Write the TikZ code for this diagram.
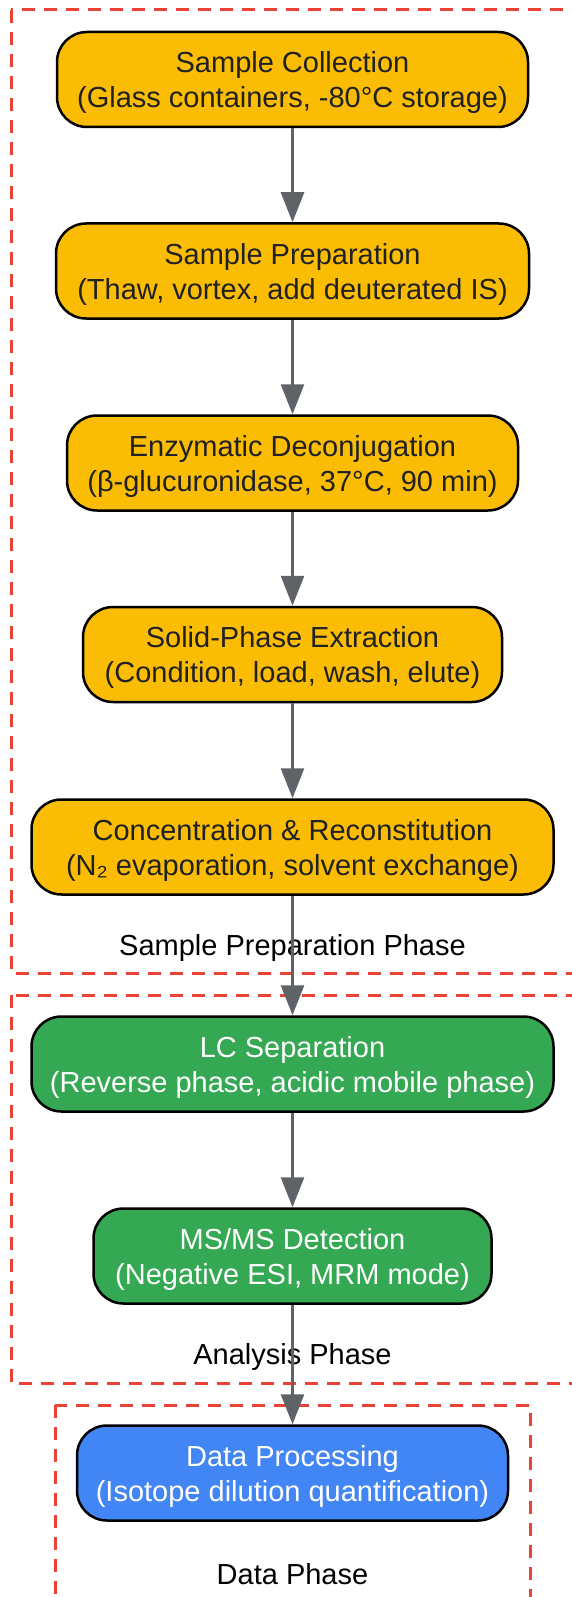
\documentclass[tikz,border=0pt]{standalone}
\usepackage{fontspec}
\setmainfont{Liberation Sans}
\usetikzlibrary{arrows.meta}
\definecolor{prepfill}{HTML}{FBBC04}
\definecolor{anafill}{HTML}{34A853}
\definecolor{datfill}{HTML}{4285F4}
\definecolor{phasered}{HTML}{EA4335}
\definecolor{arrowgray}{HTML}{5F6368}
\definecolor{darktext}{HTML}{202124}

\begin{document}
\begin{tikzpicture}[x=1pt, y=-1pt,
  every node/.style = {font=\fontsize{29}{35}\selectfont, align=center},
  stepbox/.style = {draw=black, line width=2.5pt, rounded corners=30pt,
    minimum height=95pt, inner sep=0pt, text height=62pt, text depth=6pt},
  prep/.style = {stepbox, fill=prepfill, text=darktext},
  ana/.style = {stepbox, fill=anafill, text=white},
  dat/.style = {stepbox, fill=datfill, text=white},
  phase/.style = {draw=phasered, line width=3pt, dash pattern=on 13pt off 9pt},
  flow/.style = {draw=arrowgray, line width=2.8pt, -{Triangle[length=30pt, width=23pt]}}]
  \useasboundingbox (0,0) rectangle (571,1597);
  \draw[phase] (11,10) rectangle (600,973);
  \draw[phase] (11,995) rectangle (600,1383);
  \draw[phase] (55,1405) rectangle (530,1640);
  \node (preplabel) at (292.5,948) {Sample Preparation Phase};
  \node (analabel) at (292.5,1357) {Analysis Phase};
  \node (datlabel) at (292.5,1574) {Data Phase};
  \node[prep, minimum width=471pt] (collect) at (292.5,79.5)
    {Sample Collection\\(Glass containers, -80°C storage)};
  \node[prep, minimum width=473pt] (prepare) at (292.5,271)
    {Sample Preparation\\(Thaw, vortex, add deuterated IS)};
  \node[prep, minimum width=451pt] (deconj) at (292.5,463)
    {Enzymatic Deconjugation\\(β-glucuronidase, 37°C, 90 min)};
  \node[prep, minimum width=419pt] (spe) at (292.5,654.5)
    {Solid-Phase Extraction\\(Condition, load, wash, elute)};
  \node[prep, minimum width=522pt] (concen) at (292.5,847)
    {Concentration \& Reconstitution\\(N₂ evaporation, solvent exchange)};
  \node[ana, minimum width=522pt] (lcsep) at (292.5,1064)
    {LC Separation\\(Reverse phase, acidic mobile phase)};
  \node[ana, minimum width=398pt] (msms) at (292.5,1256)
    {MS/MS Detection\\(Negative ESI, MRM mode)};
  \node[dat, minimum width=431pt] (dataproc) at (292.5,1473)
    {Data Processing\\(Isotope dilution quantification)};
  \draw[flow] (collect) -- (prepare);
  \draw[flow] (prepare) -- (deconj);
  \draw[flow] (deconj) -- (spe);
  \draw[flow] (spe) -- (concen);
  \draw[flow] (concen) -- (lcsep);
  \draw[flow] (lcsep) -- (msms);
  \draw[flow] (msms) -- (dataproc);
\end{tikzpicture}
\end{document}
